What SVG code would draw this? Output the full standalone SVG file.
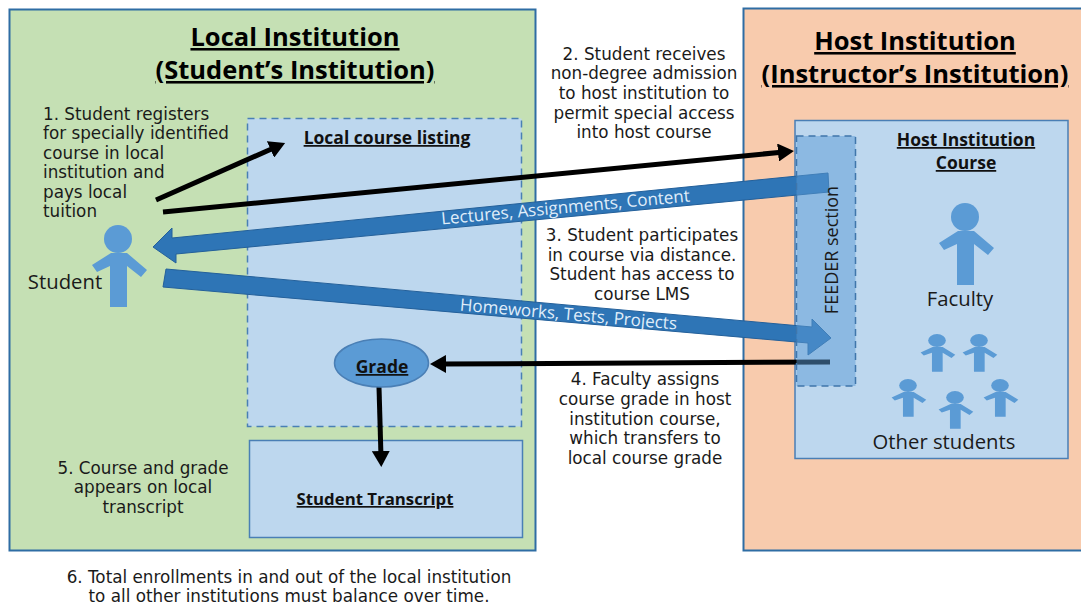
<svg xmlns="http://www.w3.org/2000/svg" width="1081" height="606" viewBox="0 0 1081 606">
<style>
text{font-family:"Open Sans","Liberation Sans",sans-serif;fill:#1a1a1a}
.b,.l{font-family:"DejaVu Sans","Liberation Sans",sans-serif;font-size:16.800px}
.b{text-anchor:middle}
.t{font-size:25.500px;font-weight:700;text-anchor:middle;text-decoration:underline;fill:#000}
.h{font-size:17.500px;font-weight:700;text-anchor:middle;text-decoration:underline;fill:#111}
.n{font-size:20.300px;text-anchor:middle}
.w{font-size:17px;text-anchor:middle;fill:#e0eefa}
.bar{fill:#2e75b6;stroke:#24609a;stroke-width:1}
.ln{fill:none;stroke:#000;stroke-width:5}
.p{fill:#5b9bd5}
</style>
<defs>
<marker id="ah" markerUnits="userSpaceOnUse" markerWidth="18" markerHeight="18" refX="6" refY="9" orient="auto"><path d="M0 0L16 9L0 18Z" fill="#000"/></marker>
<g id="person"><circle cx="0" cy="14" r="14"/><path d="M-7 28H9L29 45L23 52L9 41V82H-8V41L-21 47L-26 40Z"/></g>
</defs>
<g id="local-institution"><rect x="9.500" y="9.500" width="526" height="541" fill="#c5e0b4" stroke="#2e6da4" stroke-width="2"/>
<text class="t" x="295" y="46">Local Institution</text><text class="t" x="295" y="79">(Student’s Institution)</text></g>
<g id="host-institution"><rect x="743.500" y="8.500" width="340" height="542" fill="#f8cbad" stroke="#2e6da4" stroke-width="2"/>
<text class="t" x="915" y="50">Host Institution</text><text class="t" x="915" y="83">(Instructor’s Institution)</text></g>
<g id="local-course-listing"><rect x="247.500" y="118.500" width="274" height="308" fill="#bdd7ee" stroke="#4a7fb5" stroke-width="1.500" stroke-dasharray="7 5"/>
<text class="h" x="387" y="144">Local course listing</text></g>
<g id="student-transcript"><rect x="249.500" y="440.500" width="273" height="97" fill="#bdd7ee" stroke="#4a7fb5" stroke-width="1.500"/>
<text class="h" x="375" y="505" style="font-size:16.800px">Student Transcript</text></g>
<g id="host-course"><rect x="795" y="120.500" width="273" height="338" fill="#bdd7ee" stroke="#4a7fb5" stroke-width="1.500"/>
<text class="h" x="966" y="146">Host Institution</text><text class="h" x="966" y="169">Course</text></g>
<g id="connectors">
<path class="ln" marker-end="url(#ah)" d="M156 200L276 147"/>
<path class="ln" marker-end="url(#ah)" d="M163 212L784 152"/>
<path class="bar" d="M828 173L172 238L172 228L153 247L176 263L176 254L829 192Z"/>
<text class="w" transform="translate(566 213) rotate(-5.300)">Lectures, Assignments, Content</text>
<path class="bar" d="M166 269L812 327L812 319L831 338L808 355L808 343L163 287Z"/>
<text class="w" transform="translate(568 320) rotate(5)">Homeworks, Tests, Projects</text>
<path class="ln" marker-end="url(#ah)" d="M830 362L440 364"/>
<path class="ln" marker-end="url(#ah)" d="M379 387L381 457"/>
</g>
<g id="grade"><ellipse cx="381.500" cy="363" rx="47" ry="24" fill="#5b9bd5" stroke="#4a7fb5" stroke-width="1.500"/>
<text class="h" x="382" y="373">Grade</text></g>
<g id="feeder-section"><rect x="796.500" y="136" width="59" height="250" fill="#5b9bd5" fill-opacity=".5" stroke="#3f76ab" stroke-width="1.500" stroke-dasharray="7 5"/>
<text class="n" transform="translate(838 250) rotate(-90)" style="font-size:18px">FEEDER section</text></g>
<g id="student"><use href="#person" class="p" x="118" y="225"/><text class="n" x="65" y="289">Student</text></g>
<g id="faculty"><use href="#person" class="p" x="965" y="203"/><text class="n" x="960" y="306">Faculty</text></g>
<g id="other-students" class="p">
<use href="#person" transform="translate(937 334) scale(.63 .46)"/>
<use href="#person" transform="translate(979 334) scale(.63 .46)"/>
<use href="#person" transform="translate(908 379) scale(.63 .46)"/>
<use href="#person" transform="translate(955 391) scale(.63 .46)"/>
<use href="#person" transform="translate(1000 379) scale(.63 .46)"/>
<text class="n" x="944" y="449">Other students</text></g>
<g id="labels">
<text class="l"><tspan x="43" y="120">1. Student registers</tspan><tspan x="43" y="139">for specially identified</tspan><tspan x="43" y="159">course in local</tspan><tspan x="43" y="178">institution and</tspan><tspan x="43" y="198">pays local</tspan><tspan x="43" y="217">tuition</tspan></text>
<text class="b"><tspan x="644" y="60">2. Student receives</tspan><tspan x="644" y="79">non-degree admission</tspan><tspan x="644" y="99">to host institution to</tspan><tspan x="644" y="119">permit special access</tspan><tspan x="644" y="138">into host course</tspan></text>
<text class="b"><tspan x="642" y="241">3. Student participates</tspan><tspan x="642" y="261">in course via distance.</tspan><tspan x="642" y="280">Student has access to</tspan><tspan x="642" y="300">course LMS</tspan></text>
<text class="b"><tspan x="645" y="385">4. Faculty assigns</tspan><tspan x="645" y="405">course grade in host</tspan><tspan x="645" y="425">institution course,</tspan><tspan x="645" y="444">which transfers to</tspan><tspan x="645" y="464">local course grade</tspan></text>
<text class="b"><tspan x="143" y="474">5. Course and grade</tspan><tspan x="143" y="493">appears on local</tspan><tspan x="143" y="513">transcript</tspan></text>
<text class="b"><tspan x="289" y="583">6. Total enrollments in and out of the local institution</tspan><tspan x="289" y="602">to all other institutions must balance over time.</tspan></text>
</g>
</svg>
